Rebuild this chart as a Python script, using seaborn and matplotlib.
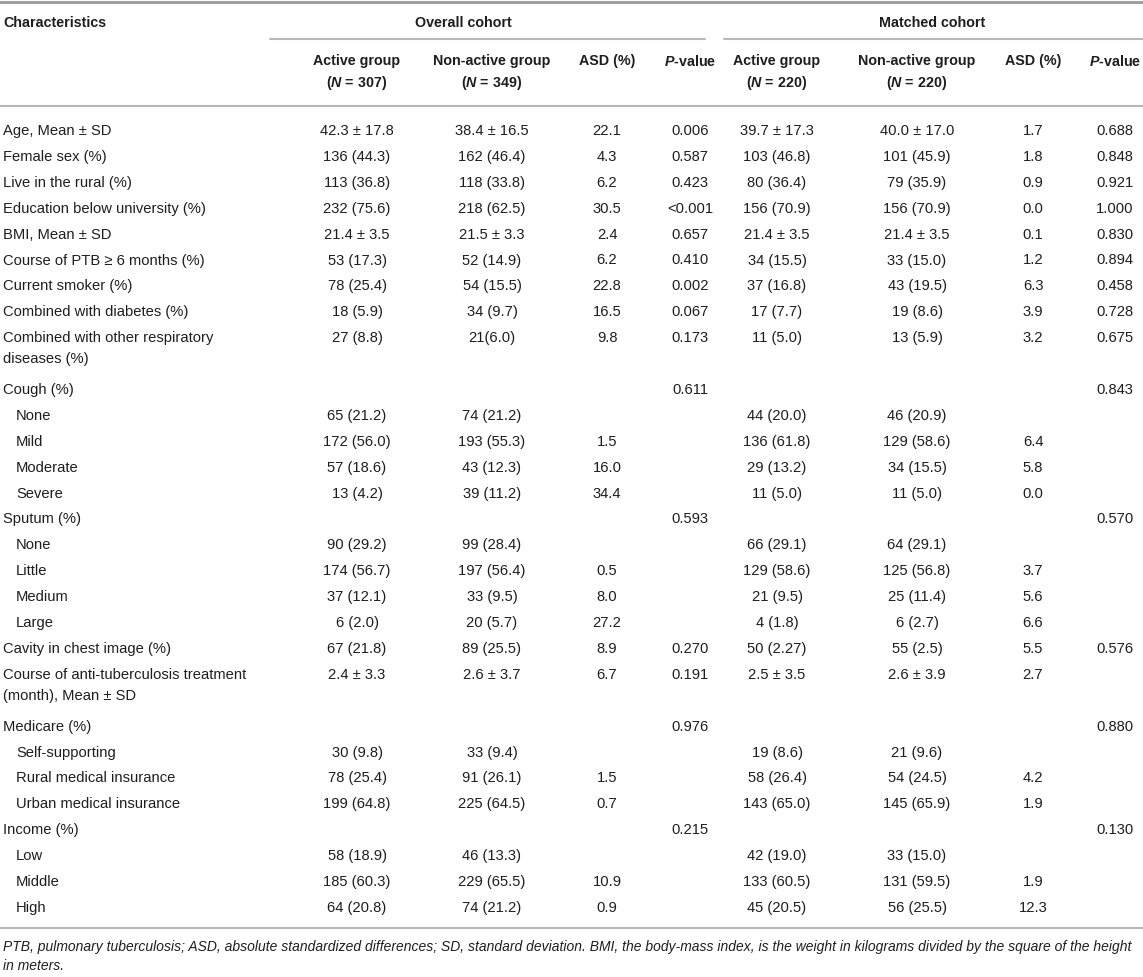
import matplotlib
matplotlib.use("Agg")
import matplotlib.pyplot as plt
import seaborn as sns

sns.set_theme(style="white")
plt.rcParams["font.family"] = ["Liberation Sans", "DejaVu Sans"]
plt.rcParams["mathtext.fontset"] = "custom"
plt.rcParams["mathtext.rm"] = "Liberation Sans"
plt.rcParams["mathtext.it"] = "Liberation Sans:italic:bold"
plt.rcParams["mathtext.bf"] = "Liberation Sans:bold"

# table data
characteristics = [
    "Age, Mean ± SD", "Female sex (%)", "Live in the rural (%)",
    "Education below university (%)", "BMI, Mean ± SD",
    "Course of PTB ≥ 6 months (%)", "Current smoker (%)",
    "Combined with diabetes (%)", "Combined with other respiratory\ndiseases (%)",
    "Cough (%)", "None", "Mild", "Moderate", "Severe",
    "Sputum (%)", "None", "Little", "Medium", "Large",
    "Cavity in chest image (%)",
    "Course of anti-tuberculosis treatment\n(month), Mean ± SD",
    "Medicare (%)", "Self-supporting", "Rural medical insurance",
    "Urban medical insurance",
    "Income (%)", "Low", "Middle", "High",
]
sublevel = [0, 0, 0, 0, 0, 0, 0, 0, 0,
            0, 1, 1, 1, 1,
            0, 1, 1, 1, 1,
            0, 0,
            0, 1, 1, 1,
            0, 1, 1, 1]

overall_active = [
    "42.3 ± 17.8", "136 (44.3)", "113 (36.8)", "232 (75.6)", "21.4 ± 3.5",
    "53 (17.3)", "78 (25.4)", "18 (5.9)", "27 (8.8)",
    "", "65 (21.2)", "172 (56.0)", "57 (18.6)", "13 (4.2)",
    "", "90 (29.2)", "174 (56.7)", "37 (12.1)", "6 (2.0)",
    "67 (21.8)", "2.4 ± 3.3",
    "", "30 (9.8)", "78 (25.4)", "199 (64.8)",
    "", "58 (18.9)", "185 (60.3)", "64 (20.8)",
]
overall_nonactive = [
    "38.4 ± 16.5", "162 (46.4)", "118 (33.8)", "218 (62.5)", "21.5 ± 3.3",
    "52 (14.9)", "54 (15.5)", "34 (9.7)", "21(6.0)",
    "", "74 (21.2)", "193 (55.3)", "43 (12.3)", "39 (11.2)",
    "", "99 (28.4)", "197 (56.4)", "33 (9.5)", "20 (5.7)",
    "89 (25.5)", "2.6 ± 3.7",
    "", "33 (9.4)", "91 (26.1)", "225 (64.5)",
    "", "46 (13.3)", "229 (65.5)", "74 (21.2)",
]
overall_asd = [
    "22.1", "4.3", "6.2", "30.5", "2.4", "6.2", "22.8", "16.5", "9.8",
    "", "", "1.5", "16.0", "34.4",
    "", "", "0.5", "8.0", "27.2",
    "8.9", "6.7",
    "", "", "1.5", "0.7",
    "", "", "10.9", "0.9",
]
overall_p = [
    "0.006", "0.587", "0.423", "<0.001", "0.657", "0.410", "0.002", "0.067", "0.173",
    "0.611", "", "", "", "",
    "0.593", "", "", "", "",
    "0.270", "0.191",
    "0.976", "", "", "",
    "0.215", "", "", "",
]
matched_active = [
    "39.7 ± 17.3", "103 (46.8)", "80 (36.4)", "156 (70.9)", "21.4 ± 3.5",
    "34 (15.5)", "37 (16.8)", "17 (7.7)", "11 (5.0)",
    "", "44 (20.0)", "136 (61.8)", "29 (13.2)", "11 (5.0)",
    "", "66 (29.1)", "129 (58.6)", "21 (9.5)", "4 (1.8)",
    "50 (2.27)", "2.5 ± 3.5",
    "", "19 (8.6)", "58 (26.4)", "143 (65.0)",
    "", "42 (19.0)", "133 (60.5)", "45 (20.5)",
]
matched_nonactive = [
    "40.0 ± 17.0", "101 (45.9)", "79 (35.9)", "156 (70.9)", "21.4 ± 3.5",
    "33 (15.0)", "43 (19.5)", "19 (8.6)", "13 (5.9)",
    "", "46 (20.9)", "129 (58.6)", "34 (15.5)", "11 (5.0)",
    "", "64 (29.1)", "125 (56.8)", "25 (11.4)", "6 (2.7)",
    "55 (2.5)", "2.6 ± 3.9",
    "", "21 (9.6)", "54 (24.5)", "145 (65.9)",
    "", "33 (15.0)", "131 (59.5)", "56 (25.5)",
]
matched_asd = [
    "1.7", "1.8", "0.9", "0.0", "0.1", "1.2", "6.3", "3.9", "3.2",
    "", "", "6.4", "5.8", "0.0",
    "", "", "3.7", "5.6", "6.6",
    "5.5", "2.7",
    "", "", "4.2", "1.9",
    "", "", "1.9", "12.3",
]
matched_p = [
    "0.688", "0.848", "0.921", "1.000", "0.830", "0.894", "0.458", "0.728", "0.675",
    "0.843", "", "", "", "",
    "0.570", "", "", "", "",
    "0.576", "",
    "0.880", "", "", "",
    "0.130", "", "", "",
]

groups = ["Overall cohort", "Matched cohort"]
col_heads = ["Active group\n($\\mathit{N}$ = 307)", "Non-active group\n($\\mathit{N}$ = 349)",
             "ASD (%)", "$\\mathit{P}$-value",
             "Active group\n($\\mathit{N}$ = 220)", "Non-active group\n($\\mathit{N}$ = 220)",
             "ASD (%)", "$\\mathit{P}$-value"]
footnote = ("PTB, pulmonary tuberculosis; ASD, absolute standardized differences; SD, standard deviation. "
            "BMI, the body-mass index, is the weight in kilograms divided by the square of the height\nin meters.")

columns = [overall_active, overall_nonactive, overall_asd, overall_p,
           matched_active, matched_nonactive, matched_asd, matched_p]

W, H = 1143, 978
fig = plt.figure(figsize=(W / 100, H / 100), dpi=100)
ax = fig.add_axes([0, 0, 1, 1])
ax.set_xlim(0, W)
ax.set_ylim(H, 0)
ax.axis("off")

txt = "#1e1e1e"
line_c = "#b8b8b8"
fs_head = 10.3
fs = 10.6
col_x = [357, 492, 607, 690, 777, 917, 1033, 1115]

# header
ax.axhline(3, color="#a0a0a0", lw=2.2)
ax.text(3, 23, "Characteristics", fontsize=fs_head, fontweight="bold", color=txt, va="center")
ax.text(463, 23, groups[0], fontsize=fs_head, fontweight="bold", color=txt, va="center", ha="center")
ax.text(932, 23, groups[1], fontsize=fs_head, fontweight="bold", color=txt, va="center", ha="center")
ax.plot([270, 705], [40, 40], color=line_c, lw=1.5)
ax.plot([724, 1143], [40, 40], color=line_c, lw=1.5)
for x, h in zip(col_x, col_heads):
    parts = h.split("\n")
    ax.text(x, 61, parts[0], fontsize=fs_head, fontweight="bold", color=txt, va="center", ha="center")
    if len(parts) > 1:
        ax.text(x, 83, parts[1], fontsize=fs_head, fontweight="bold", color=txt, va="center", ha="center")
ax.axhline(107, color=line_c, lw=1.5)

# body
y = 131
step = 25.9
for i, lab in enumerate(characteristics):
    lines = lab.split("\n")
    for k, ln in enumerate(lines):
        ax.text(3 + 13 * sublevel[i], y + k * 21, ln, fontsize=fs, color=txt, va="center")
    for x, col in zip(col_x, columns):
        if col[i]:
            ax.text(x, y, col[i], fontsize=fs, color=txt, va="center", ha="center")
    y += step * len(lines)

ax.axhline(929, color=line_c, lw=1.5)

fn = footnote.split("\n")
ax.text(3, 947, fn[0], fontsize=10.0, style="italic", color=txt, va="center")
ax.text(3, 966, fn[1], fontsize=10.0, style="italic", color=txt, va="center")

fig.savefig("out.png", dpi=100)
